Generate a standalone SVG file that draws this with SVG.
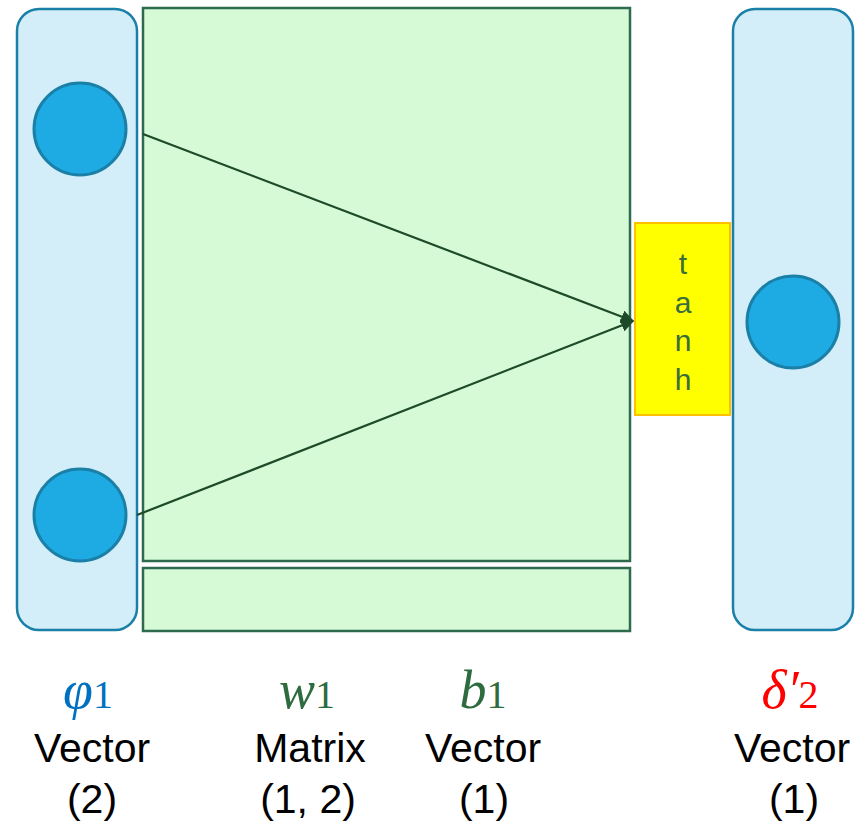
<svg xmlns="http://www.w3.org/2000/svg" width="865" height="829" viewBox="0 0 865 829">
<defs>
<style>
.panel{fill:#d4eef9;stroke:#1a80a8;stroke-width:2.5}
.neuron{fill:#1eaae2;stroke:#1a80a8;stroke-width:3}
.mat{fill:#d5fad5;stroke:#2e6a4e;stroke-width:2.5}
.act{fill:#ffff00;stroke:#ffc000;stroke-width:2}
.conn{stroke:#1e4a2a;stroke-width:2.2;fill:none;marker-end:url(#arr)}
.lbl{font-family:"Liberation Sans",Arial,sans-serif;font-size:41px;fill:#000;text-anchor:middle}
.sym{font-family:"Liberation Serif","Times New Roman",serif;font-size:54px;font-style:italic;text-anchor:middle}
.sub{font-style:normal;font-size:40px}
.tanh{font-family:"Liberation Sans",Arial,sans-serif;font-size:30px;fill:#3a6e3a;text-anchor:middle}
</style>
<marker id="arr" viewBox="0 0 10 10" refX="9" refY="5" markerWidth="6" markerHeight="6" orient="auto" markerUnits="strokeWidth">
<path d="M0,0 L10,5 L0,10 Z" fill="#1e4a2a"/>
</marker>
</defs>
<g id="input-layer">
<rect class="panel" x="17" y="9" width="120" height="621" rx="22"/>
<circle class="neuron" cx="80" cy="129" r="46"/>
<circle class="neuron" cx="80" cy="515" r="46"/>
</g>
<g id="weights">
<rect class="mat" x="143" y="8" width="487" height="553"/>
</g>
<g id="bias">
<rect class="mat" x="143" y="568" width="487" height="63"/>
</g>
<g id="activation">
<rect class="act" x="635" y="223" width="95" height="192"/>
<text class="tanh" x="683" y="274">t</text>
<text class="tanh" x="683" y="313">a</text>
<text class="tanh" x="683" y="351">n</text>
<text class="tanh" x="683" y="390">h</text>
</g>
<g id="output-layer">
<rect class="panel" x="733" y="9" width="120" height="621" rx="22"/>
<circle class="neuron" cx="793" cy="322" r="46"/>
</g>
<g id="connectors">
<line class="conn" x1="143" y1="134" x2="633" y2="321"/>
<line class="conn" x1="137" y1="515" x2="633" y2="321"/>
</g>
<g id="labels">
<text class="sym" x="88" y="708" fill="#0070c0">φ<tspan class="sub">1</tspan></text>
<text class="lbl" x="92" y="762">Vector</text>
<text class="lbl" x="92" y="813">(2)</text>
<text class="sym" x="307" y="708" fill="#2e6b3e">w<tspan class="sub">1</tspan></text>
<text class="lbl" x="310" y="762">Matrix</text>
<text class="lbl" x="308" y="813">(1, 2)</text>
<text class="sym" x="483" y="708" fill="#2e6b3e">b<tspan class="sub">1</tspan></text>
<text class="lbl" x="483" y="762">Vector</text>
<text class="lbl" x="484" y="813">(1)</text>
<text class="sym" x="790" y="708" fill="#ff0000">δ′<tspan class="sub">2</tspan></text>
<text class="lbl" x="792" y="762">Vector</text>
<text class="lbl" x="794" y="813">(1)</text>
</g>
</svg>
